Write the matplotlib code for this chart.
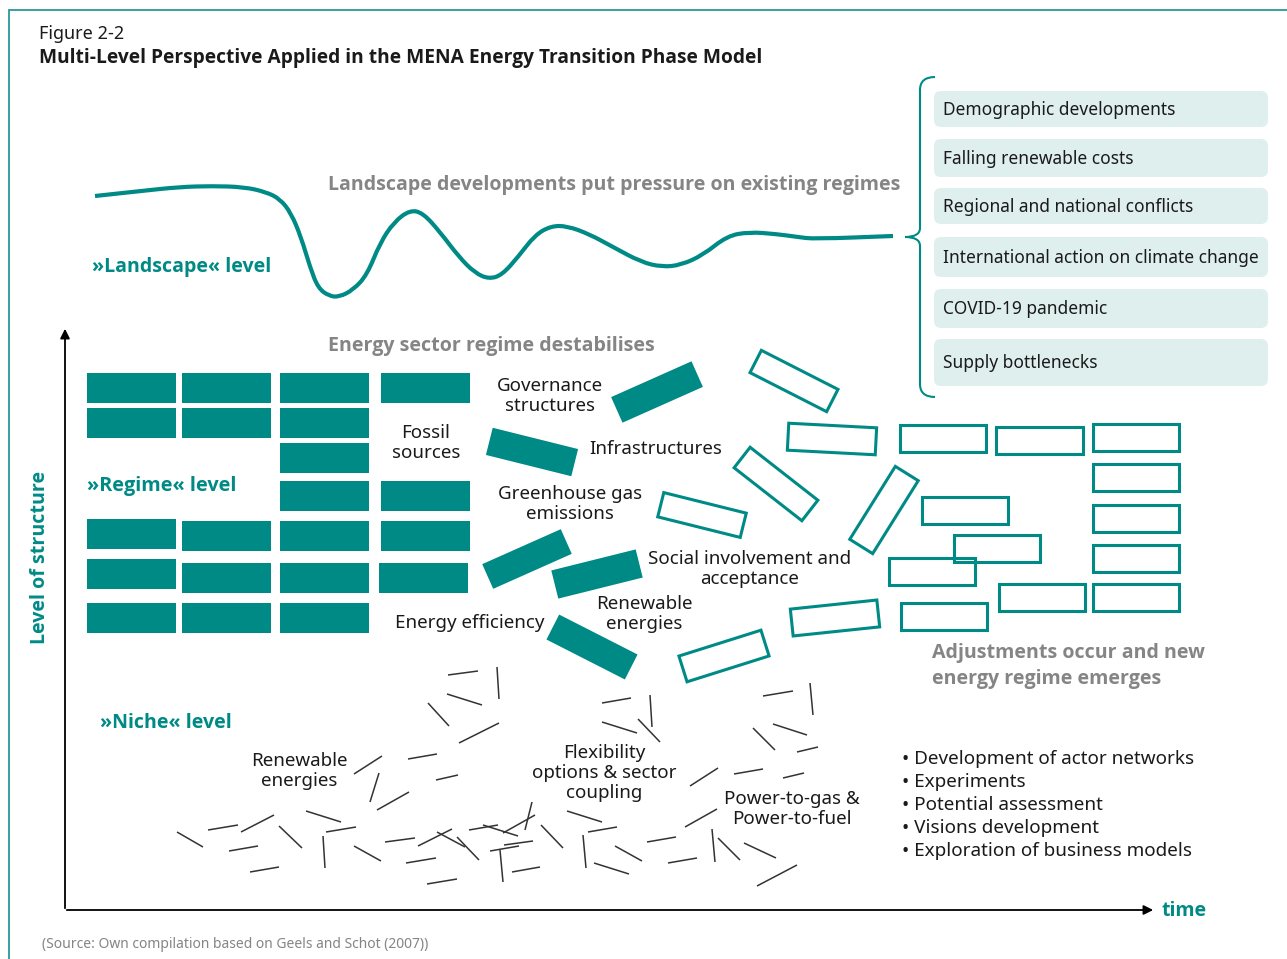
import matplotlib
matplotlib.use("Agg")
import matplotlib.pyplot as plt
from matplotlib.patches import Rectangle, FancyBboxPatch, PathPatch
from matplotlib.collections import LineCollection
from matplotlib.path import Path

plt.rcParams['font.family'] = ['Noto Sans', 'DejaVu Sans']
BOLD = ['Open Sans', 'DejaVu Sans']

TEAL = '#008a86'
LIGHT = '#dfefee'
GREY = '#858585'
INK = '#1a1a1a'

# ---- data (pixel coordinates of the reference picture) ----
title_small = "Figure 2-2"
title_bold = "Multi-Level Perspective Applied in the MENA Energy Transition Phase Model"
source = "(Source: Own compilation based on Geels and Schot (2007))"

landscape_factors = ["Demographic developments", "Falling renewable costs",
                     "Regional and national conflicts", "International action on climate change",
                     "COVID-19 pandemic", "Supply bottlenecks"]
factor_rows = [(91, 127), (139, 177), (188, 224), (237, 277), (289, 328), (339, 386)]

landscape_x = [95, 141, 179, 212, 244, 266, 280, 291, 301, 310, 318, 329, 339, 353, 367, 380,
               394, 410, 423, 440, 459, 475, 489, 502, 518, 535, 551, 567, 589, 613, 641, 662,
               681, 703, 727, 749, 776, 798, 814, 893]
landscape_y = [196, 191, 187, 186, 187, 192, 199, 213, 237, 267, 288, 296, 297, 290, 275, 243,
               222, 210, 213, 232, 257, 273, 279, 275, 257, 235, 226, 226, 234, 247, 262, 267,
               265, 255, 236, 232, 234, 237, 239, 236]

# old regime blocks (x0, y0, x1, y1)
regime_blocks = [
    (87, 373, 176, 403), (182, 373, 271, 403), (280, 373, 369, 403), (381, 373, 470, 403),
    (87, 408, 176, 438), (182, 408, 271, 438), (280, 408, 369, 438),
    (280, 443, 369, 473),
    (280, 481, 369, 511), (381, 481, 470, 511),
    (87, 519, 176, 549), (182, 521, 271, 551), (280, 521, 369, 551), (381, 521, 470, 551),
    (87, 559, 176, 589), (182, 563, 271, 593), (280, 563, 369, 593), (379, 563, 468, 593),
    (87, 603, 176, 633), (182, 603, 271, 633), (280, 603, 369, 633),
]

# loosened regime blocks (cx, cy, w, h, angle)
loose_filled = [
    (657, 392, 88, 28, -24), (532, 452, 88, 28, 14), (527, 559, 86, 27, -24),
    (597, 574, 87, 29, -14), (592, 647, 88, 28, 27),
]
loose_outline = [
    (794, 381, 86, 25, 27), (832, 439, 88, 27, 3), (776, 484, 86, 26, 38),
    (702, 515, 85, 25, 14), (884, 510, 86, 27, -58), (835, 618, 87, 27, -6),
    (724, 656, 86, 27, -17.5),
]

# new regime blocks (x0, y0, x1, y1)
new_blocks = [
    (898, 423, 987, 453), (994, 425, 1084, 455), (1091, 422, 1180, 452),
    (1091, 462, 1180, 492), (920, 495, 1009, 525), (1091, 503, 1180, 533),
    (952, 533, 1041, 563), (887, 556, 976, 586), (1091, 543, 1180, 573),
    (997, 582, 1086, 612), (1091, 582, 1180, 612), (899, 601, 988, 631),
]

# niche-level fragments
niche_segments = [
    ((448, 675), (478, 671)), ((497, 667), (499, 699)), ((447, 694), (482, 705)),
    ((428, 703), (449, 726)), ((459, 743), (499, 723)), ((354, 774), (382, 756)),
    ((408, 759), (437, 754)), ((436, 780), (458, 775)), ((379, 773), (370, 802)),
    ((377, 810), (409, 792)), ((306, 811), (341, 822)), ((177, 832), (203, 847)),
    ((208, 830), (238, 825)), ((241, 832), (274, 815)), ((279, 826), (302, 848)),
    ((326, 832), (356, 827)), ((323, 836), (325, 868)), ((229, 851), (258, 846)),
    ((250, 872), (279, 867)), ((354, 846), (381, 861)), ((385, 842), (415, 838)),
    ((406, 863), (436, 858)), ((418, 846), (452, 829)), ((437, 832), (465, 847)),
    ((457, 837), (479, 860)), ((469, 830), (498, 825)), ((483, 825), (518, 836)),
    ((503, 833), (535, 815)), ((532, 802), (525, 830)), ((490, 851), (519, 846)),
    ((504, 845), (533, 841)), ((500, 850), (503, 882)), ((512, 872), (540, 867)),
    ((427, 884), (457, 879)),
    ((602, 703), (631, 698)), ((650, 695), (652, 727)), ((602, 722), (637, 733)),
    ((638, 719), (660, 742)), ((763, 696), (793, 691)), ((810, 683), (813, 715)),
    ((773, 724), (807, 735)), ((753, 728), (775, 750)), ((797, 752), (818, 747)),
    ((690, 786), (718, 768)), ((734, 774), (763, 769)), ((783, 778), (804, 773)),
    ((567, 811), (602, 822)), ((588, 832), (617, 827)), ((541, 825), (563, 848)),
    ((583, 835), (586, 868)), ((615, 846), (642, 861)), ((594, 863), (629, 874)),
    ((647, 842), (676, 837)), ((668, 863), (697, 858)), ((685, 827), (717, 809)),
    ((712, 829), (715, 862)), ((718, 838), (740, 860)), ((744, 843), (776, 858)),
    ((757, 886), (797, 865)),
]

labels = [  # (x, y, text)
    (550, 396, "Governance\nstructures"),
    (426, 443, "Fossil\nsources"),
    (656, 449, "Infrastructures"),
    (570, 504, "Greenhouse gas\nemissions"),
    (750, 569, "Social involvement and\nacceptance"),
    (644, 614, "Renewable\nenergies"),
    (470, 623, "Energy efficiency"),
    (299, 771, "Renewable\nenergies"),
    (604, 773, "Flexibility\noptions & sector\ncoupling"),
    (792, 809, "Power-to-gas &\nPower-to-fuel"),
]

niche_activities = ["Development of actor networks", "Experiments", "Potential assessment",
                    "Visions development", "Exploration of business models"]

# ---- drawing ----
fig = plt.figure(figsize=(12.87, 9.59), dpi=100)
ax = fig.add_axes([0, 0, 1, 1])
ax.set_xlim(0, 1287)
ax.set_ylim(959, 0)
ax.axis('off')


def bold(x, y, s, size, color, **kw):
    ax.text(x, y, s, fontsize=size, fontweight='bold', family=BOLD, color=color,
            va='center', **kw)


# frame
ax.plot([9, 9, 1287], [959, 10, 10], color='#2a9a96', lw=1.3, solid_joinstyle='miter')

ax.text(39, 34, title_small, fontsize=13, color=INK, va='center')
bold(39, 58, title_bold, 13.8, INK)

# landscape curve, smoothed with quadratic segments through the read points
pts = list(zip(landscape_x, landscape_y))
verts = [pts[0]]
codes = [Path.MOVETO]
for i in range(1, len(pts) - 1):
    mid = ((pts[i][0] + pts[i + 1][0]) / 2, (pts[i][1] + pts[i + 1][1]) / 2)
    verts += [pts[i], mid]
    codes += [Path.CURVE3, Path.CURVE3]
verts.append(pts[-1])
codes.append(Path.LINETO)
ax.add_patch(PathPatch(Path(verts, codes), fill=False, edgecolor=TEAL, lw=3,
                       capstyle='butt', joinstyle='round'))
bold(328, 185, "Landscape developments put pressure on existing regimes", 14.1, GREY)
bold(92, 267, "»Landscape« level", 14.1, TEAL)

# brace
verts = [(935, 77), (920, 77), (920, 90), (920, 228), (920, 237), (905, 237),
         (920, 237), (920, 246), (920, 384), (920, 397), (935, 397)]
codes = [Path.MOVETO, Path.CURVE3, Path.CURVE3, Path.LINETO, Path.CURVE3, Path.CURVE3,
         Path.CURVE3, Path.CURVE3, Path.LINETO, Path.CURVE3, Path.CURVE3]
ax.add_patch(PathPatch(Path(verts, codes), fill=False, edgecolor=TEAL, lw=1.5))

for name, (y0, y1) in zip(landscape_factors, factor_rows):
    ax.add_patch(FancyBboxPatch((934, y0), 334, y1 - y0,
                                boxstyle="round,pad=0,rounding_size=7",
                                facecolor=LIGHT, edgecolor='none'))
    ax.text(943, (y0 + y1) / 2 + 1, name, fontsize=12.5, color=INK, va='center')

# regime
bold(328, 346, "Energy sector regime destabilises", 14.1, GREY)
bold(87, 486, "»Regime« level", 14.3, TEAL)
for x0, y0, x1, y1 in regime_blocks:
    ax.add_patch(Rectangle((x0, y0), x1 - x0, y1 - y0, facecolor=TEAL, edgecolor='none'))
for cx, cy, w, h, a in loose_filled:
    ax.add_patch(Rectangle((cx - w / 2, cy - h / 2), w, h, angle=a, rotation_point='center',
                           facecolor=TEAL, edgecolor='none'))
for cx, cy, w, h, a in loose_outline:
    ax.add_patch(Rectangle((cx - w / 2, cy - h / 2), w, h, angle=a, rotation_point='center',
                           facecolor='none', edgecolor=TEAL, lw=2.2))
for x0, y0, x1, y1 in new_blocks:
    ax.add_patch(Rectangle((x0 + 1.5, y0 + 1.5), x1 - x0 - 3, y1 - y0 - 3,
                           facecolor='none', edgecolor=TEAL, lw=2.2))
bold(932, 666, "Adjustments occur and new\nenergy regime emerges", 14.1, GREY, linespacing=1.42)

for x, y, t in labels:
    ax.text(x, y, t, fontsize=13.5, color=INK, ha='center', va='center',
            multialignment='center', linespacing=1.17)

# niche
bold(100, 723, "»Niche« level", 14.1, TEAL)
ax.add_collection(LineCollection(niche_segments, colors='#333333', linewidths=1.1))
for i, t in enumerate(niche_activities):
    ax.text(902, 759 + 23 * i, "• " + t, fontsize=13.6, color=INK, va='center')

# axes of the diagram
ax.annotate("", xy=(65, 326), xytext=(65, 911),
            arrowprops=dict(arrowstyle='-|>', color='black', lw=1.3, mutation_scale=14))
ax.annotate("", xy=(1156, 910), xytext=(64, 910),
            arrowprops=dict(arrowstyle='-|>', color='black', lw=1.3, mutation_scale=14))
bold(1162, 911, "time", 14, TEAL)
bold(40, 557, "Level of structure", 14.1, TEAL, rotation=90, ha='center')

ax.text(42, 945, source, fontsize=10, color=GREY, va='center')

fig.savefig("out.png", dpi=100)
